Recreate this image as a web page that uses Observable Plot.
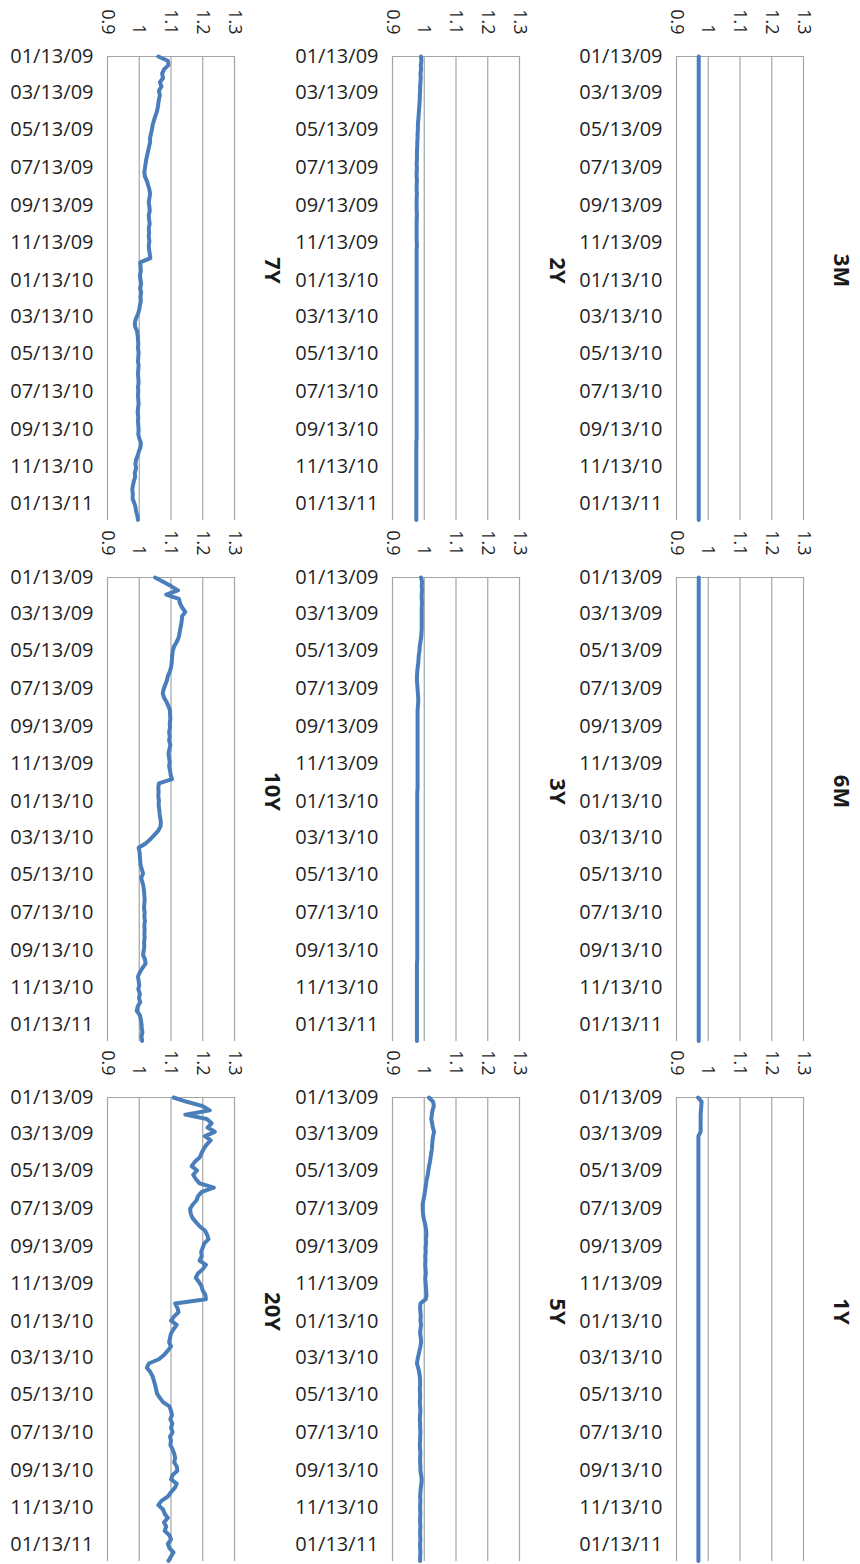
<!DOCTYPE html>
<html><head><meta charset="utf-8">
<script src="https://cdn.jsdelivr.net/npm/d3@7"></script>
<script src="https://cdn.jsdelivr.net/npm/@observablehq/plot@0.6"></script>
<style>
html,body{margin:0;padding:0;background:#fff;}
#chart{position:relative;width:860px;height:1564px;overflow:hidden;background:#fff;}
#chart svg{position:absolute;overflow:visible;}
</style></head><body><div id="chart"></div>
<script>
// Weekly sample dates
const dates = [
"2009-01-13","2009-01-20","2009-01-27","2009-02-03","2009-02-10","2009-02-17","2009-02-24","2009-03-03","2009-03-10","2009-03-17",
"2009-03-24","2009-03-31","2009-04-07","2009-04-14","2009-04-21","2009-04-28","2009-05-05","2009-05-12","2009-05-19","2009-05-26",
"2009-06-02","2009-06-09","2009-06-16","2009-06-23","2009-06-30","2009-07-07","2009-07-14","2009-07-21","2009-07-28","2009-08-04",
"2009-08-11","2009-08-18","2009-08-25","2009-09-01","2009-09-08","2009-09-15","2009-09-22","2009-09-29","2009-10-06","2009-10-13",
"2009-10-20","2009-10-27","2009-11-03","2009-11-10","2009-11-17","2009-11-24","2009-12-01","2009-12-08","2009-12-15","2009-12-22",
"2009-12-29","2010-01-05","2010-01-12","2010-01-19","2010-01-26","2010-02-02","2010-02-09","2010-02-16","2010-02-23","2010-03-02",
"2010-03-09","2010-03-16","2010-03-23","2010-03-30","2010-04-06","2010-04-13","2010-04-20","2010-04-27","2010-05-04","2010-05-11",
"2010-05-18","2010-05-25","2010-06-01","2010-06-08","2010-06-15","2010-06-22","2010-06-29","2010-07-06","2010-07-13","2010-07-20",
"2010-07-27","2010-08-03","2010-08-10","2010-08-17","2010-08-24","2010-08-31","2010-09-07","2010-09-14","2010-09-21","2010-09-28",
"2010-10-05","2010-10-12","2010-10-19","2010-10-26","2010-11-02","2010-11-09","2010-11-16","2010-11-23","2010-11-30","2010-12-07",
"2010-12-14","2010-12-21","2010-12-28","2011-01-04","2011-01-11","2011-01-18","2011-01-25","2011-02-01","2011-02-08"
];

const dateTicks = ["2009-01-13","2009-03-13","2009-05-13","2009-07-13","2009-09-13","2009-11-13","2010-01-13",
"2010-03-13","2010-05-13","2010-07-13","2010-09-13","2010-11-13","2011-01-13"];
const dateDomain = ["2009-01-13","2011-02-09"];
const valueTicks = [0.9, 1, 1.1, 1.2, 1.3];
const valueLabels = ["0.9", "1", "1.1", "1.2", "1.3"];

const v3M = [0.97,0.97,0.97,0.97,0.97,0.97,0.97,0.97,0.97,0.97,
0.97,0.97,0.97,0.97,0.97,0.97,0.97,0.97,0.97,0.97,
0.97,0.97,0.97,0.97,0.97,0.97,0.97,0.97,0.97,0.97,
0.97,0.97,0.97,0.97,0.97,0.97,0.97,0.97,0.97,0.97,
0.97,0.97,0.97,0.97,0.97,0.97,0.97,0.97,0.97,0.97,
0.97,0.97,0.97,0.97,0.97,0.97,0.97,0.97,0.97,0.97,
0.97,0.97,0.97,0.97,0.97,0.97,0.97,0.97,0.97,0.97,
0.97,0.97,0.97,0.97,0.97,0.97,0.97,0.97,0.97,0.97,
0.97,0.97,0.97,0.97,0.97,0.97,0.97,0.97,0.97,0.97,
0.97,0.97,0.97,0.97,0.97,0.97,0.97,0.97,0.97,0.97,
0.97,0.97,0.97,0.97,0.97,0.97,0.97,0.97,0.97];
const v6M = v3M.slice();
const v1Y = [0.968,0.979,0.978,0.977,0.976,0.976,0.976,0.976,0.976,0.969,
0.969,0.969,0.969,0.969,0.969,0.969,0.969,0.969,0.969,0.969,
0.969,0.969,0.969,0.969,0.969,0.969,0.969,0.969,0.969,0.969,
0.969,0.969,0.969,0.969,0.969,0.969,0.969,0.969,0.969,0.969,
0.969,0.969,0.969,0.969,0.969,0.969,0.969,0.969,0.969,0.969,
0.969,0.969,0.969,0.969,0.969,0.969,0.969,0.969,0.969,0.969,
0.969,0.969,0.969,0.969,0.969,0.969,0.969,0.969,0.969,0.969,
0.969,0.969,0.969,0.969,0.969,0.969,0.969,0.969,0.969,0.969,
0.969,0.969,0.969,0.969,0.969,0.969,0.969,0.969,0.969,0.969,
0.969,0.969,0.969,0.969,0.969,0.969,0.969,0.969,0.969,0.969,
0.969,0.969,0.969,0.969,0.969,0.969,0.969,0.969,0.969];
const v2Y = [0.99,0.991,0.989,0.99,0.988,0.989,0.988,0.987,0.987,0.986,
0.986,0.985,0.984,0.983,0.982,0.981,0.98,0.98,0.979,0.979,
0.978,0.978,0.977,0.977,0.977,0.976,0.977,0.976,0.976,0.977,
0.976,0.976,0.977,0.976,0.976,0.976,0.976,0.977,0.976,0.976,
0.976,0.976,0.976,0.976,0.977,0.976,0.976,0.976,0.976,0.976,
0.976,0.976,0.976,0.976,0.976,0.976,0.976,0.976,0.976,0.976,
0.976,0.976,0.976,0.976,0.976,0.976,0.976,0.976,0.976,0.976,
0.976,0.976,0.976,0.976,0.976,0.976,0.976,0.976,0.976,0.976,
0.976,0.976,0.976,0.976,0.976,0.976,0.976,0.976,0.976,0.976,
0.975,0.975,0.975,0.975,0.975,0.975,0.975,0.975,0.975,0.975,
0.975,0.975,0.975,0.975,0.975,0.975,0.975,0.975,0.975];
const v3Y = [0.99,0.993,0.992,0.993,0.992,0.992,0.993,0.992,0.992,0.992,
0.992,0.992,0.992,0.991,0.99,0.988,0.986,0.985,0.983,0.982,
0.981,0.979,0.978,0.977,0.977,0.978,0.979,0.98,0.981,0.981,
0.98,0.979,0.979,0.979,0.979,0.979,0.979,0.979,0.979,0.979,
0.979,0.979,0.979,0.979,0.979,0.979,0.979,0.979,0.979,0.979,
0.978,0.978,0.978,0.978,0.978,0.978,0.978,0.978,0.978,0.978,
0.978,0.978,0.978,0.978,0.978,0.978,0.978,0.978,0.978,0.978,
0.978,0.978,0.978,0.978,0.978,0.978,0.978,0.978,0.978,0.978,
0.978,0.978,0.978,0.978,0.978,0.978,0.978,0.978,0.978,0.978,
0.977,0.977,0.977,0.977,0.977,0.977,0.977,0.977,0.977,0.977,
0.977,0.977,0.977,0.977,0.977,0.977,0.977,0.977,0.977];
const v5Y = [1.015,1.028,1.03,1.026,1.024,1.022,1.025,1.027,1.031,1.028,
1.026,1.025,1.024,1.022,1.02,1.018,1.015,1.013,1.011,1.008,
1.006,1.004,1.002,1.0,0.997,0.995,0.995,0.996,0.998,1.001,
1.004,1.006,1.007,1.005,1.006,1.004,1.005,1.003,1.004,1.003,
1.004,1.005,1.003,1.004,1.005,1.006,1.007,1.005,0.988,0.987,
0.988,0.989,0.988,0.99,0.988,0.987,0.989,0.99,0.988,0.985,
0.982,0.979,0.977,0.981,0.984,0.986,0.987,0.987,0.986,0.987,
0.987,0.986,0.987,0.988,0.987,0.986,0.987,0.987,0.988,0.987,
0.987,0.986,0.987,0.988,0.987,0.987,0.988,0.988,0.99,0.992,
0.991,0.989,0.988,0.987,0.988,0.987,0.987,0.988,0.987,0.987,
0.988,0.987,0.987,0.988,0.987,0.987,0.988,0.987,0.987];
const v7Y = [1.06,1.09,1.092,1.078,1.072,1.075,1.065,1.07,1.062,1.065,
1.062,1.06,1.058,1.055,1.05,1.046,1.042,1.04,1.037,1.034,
1.034,1.031,1.028,1.025,1.022,1.02,1.018,1.016,1.018,1.024,
1.028,1.032,1.034,1.032,1.03,1.032,1.033,1.03,1.031,1.033,
1.03,1.031,1.03,1.032,1.03,1.031,1.033,1.035,1.003,1.004,
1.005,1.002,1.004,1.006,1.003,1.006,1.004,1.005,1.002,1.0,
0.996,0.99,0.986,0.987,0.993,0.995,0.996,0.997,0.996,0.998,
0.997,0.996,0.998,0.997,0.996,0.997,0.998,0.996,0.997,0.996,
0.997,0.998,0.996,0.995,0.997,0.996,0.997,0.998,0.997,1.0,
1.005,1.004,0.999,0.995,0.99,0.988,0.99,0.986,0.987,0.983,
0.98,0.978,0.98,0.979,0.984,0.988,0.99,0.994,0.996];
const v10Y = [1.05,1.075,1.1,1.122,1.085,1.125,1.128,1.135,1.145,1.135,
1.134,1.132,1.129,1.127,1.124,1.118,1.11,1.106,1.104,1.103,
1.102,1.1,1.096,1.09,1.087,1.082,1.077,1.074,1.078,1.086,
1.092,1.097,1.097,1.098,1.096,1.097,1.094,1.096,1.094,1.098,
1.095,1.092,1.094,1.096,1.094,1.097,1.099,1.103,1.062,1.06,
1.061,1.06,1.062,1.061,1.063,1.064,1.066,1.068,1.067,1.06,
1.048,1.035,1.02,0.998,1.001,1.002,1.003,1.004,1.008,1.012,
1.006,1.01,1.013,1.015,1.016,1.017,1.016,1.015,1.017,1.016,
1.018,1.016,1.017,1.016,1.017,1.015,1.016,1.014,1.012,1.018,
1.02,1.01,1.002,0.996,0.998,1.0,0.997,1.002,0.999,1.003,
0.995,0.992,1.002,1.005,1.007,1.008,1.01,1.007,1.009];
const v20Y = [1.108,1.15,1.2,1.222,1.145,1.213,1.228,1.215,1.238,1.207,
1.225,1.212,1.203,1.196,1.19,1.175,1.165,1.182,1.17,1.178,
1.19,1.235,1.197,1.185,1.18,1.168,1.16,1.162,1.167,1.178,
1.19,1.207,1.214,1.218,1.205,1.2,1.195,1.197,1.19,1.21,
1.2,1.185,1.178,1.188,1.196,1.2,1.208,1.21,1.113,1.12,
1.124,1.11,1.1,1.118,1.108,1.1,1.097,1.094,1.1,1.09,
1.078,1.062,1.03,1.024,1.035,1.042,1.046,1.05,1.053,1.056,
1.065,1.075,1.095,1.1,1.103,1.098,1.104,1.1,1.105,1.097,
1.1,1.098,1.105,1.11,1.113,1.11,1.118,1.12,1.105,1.1,
1.118,1.112,1.1,1.09,1.07,1.06,1.075,1.08,1.09,1.078,
1.085,1.08,1.095,1.1,1.09,1.095,1.108,1.1,1.092];

// Original 3x3 grid (row-major): the whole figure is shown rotated 90° clockwise
const gridNames = [["3M","6M","1Y"],["2Y","3Y","5Y"],["7Y","10Y","20Y"]];
const seriesByName = {"3M":v3M,"6M":v6M,"1Y":v1Y,"2Y":v2Y,"3Y":v3Y,"5Y":v5Y,"7Y":v7Y,"10Y":v10Y,"20Y":v20Y};

const parse = d3.utcParse("%Y-%m-%d");
const fmt = d3.utcFormat("%m/%d/%y");
const blue = "#4a7ebb";
const grid = "#a5a5a5";
const font = "'Open Sans', 'Noto Sans', sans-serif";

const container = document.getElementById("chart");
const colLeft = [0, 285, 569];
const rowTop = [0, 521, 1041];

gridNames.forEach((row, r) => {
  row.forEach((name, c) => {
    const vals = seriesByName[name];
    const data = dates.map((d, i) => ({date: parse(d), value: vals[i]}));
    const svg = Plot.plot({
      width: 290,
      height: 520,
      marginLeft: 107,
      marginRight: 56,
      marginTop: 56,
      marginBottom: 0,
      style: {fontFamily: font, color: "#1f1f1f", background: "transparent", overflow: "visible"},
      x: {domain: [0.9, 1.3]},
      y: {type: "utc", domain: dateDomain.map(parse), reverse: true},
      marks: [
        Plot.ruleX(valueTicks, {stroke: grid, strokeWidth: 1.2}),
        Plot.ruleY([parse(dateDomain[0])], {stroke: grid, strokeWidth: 1.2}),
        Plot.axisX({anchor: "top", ticks: valueTicks, tickSize: 0, tickPadding: 22, tickRotate: 90,
          tickFormat: (d, i) => valueLabels[i], fontSize: 18, label: null}),
        Plot.axisY({anchor: "left", ticks: dateTicks.map(parse), tickSize: 0, tickPadding: 14,
          tickFormat: fmt, fontSize: 20, label: null}),
        Plot.line(data, {x: "value", y: "date", stroke: blue, strokeWidth: 4, strokeLinejoin: "round", strokeLinecap: "round"}),
        Plot.text([name], {frameAnchor: "middle", rotate: 90, dx: 101, dy: -18, fontWeight: "bold", fontSize: 22, fill: "#1a1a1a"})
      ]
    });
    svg.style.left = colLeft[2 - r] + "px";
    svg.style.top = rowTop[c] + "px";
    container.appendChild(svg);
  });
});
</script></body></html>
